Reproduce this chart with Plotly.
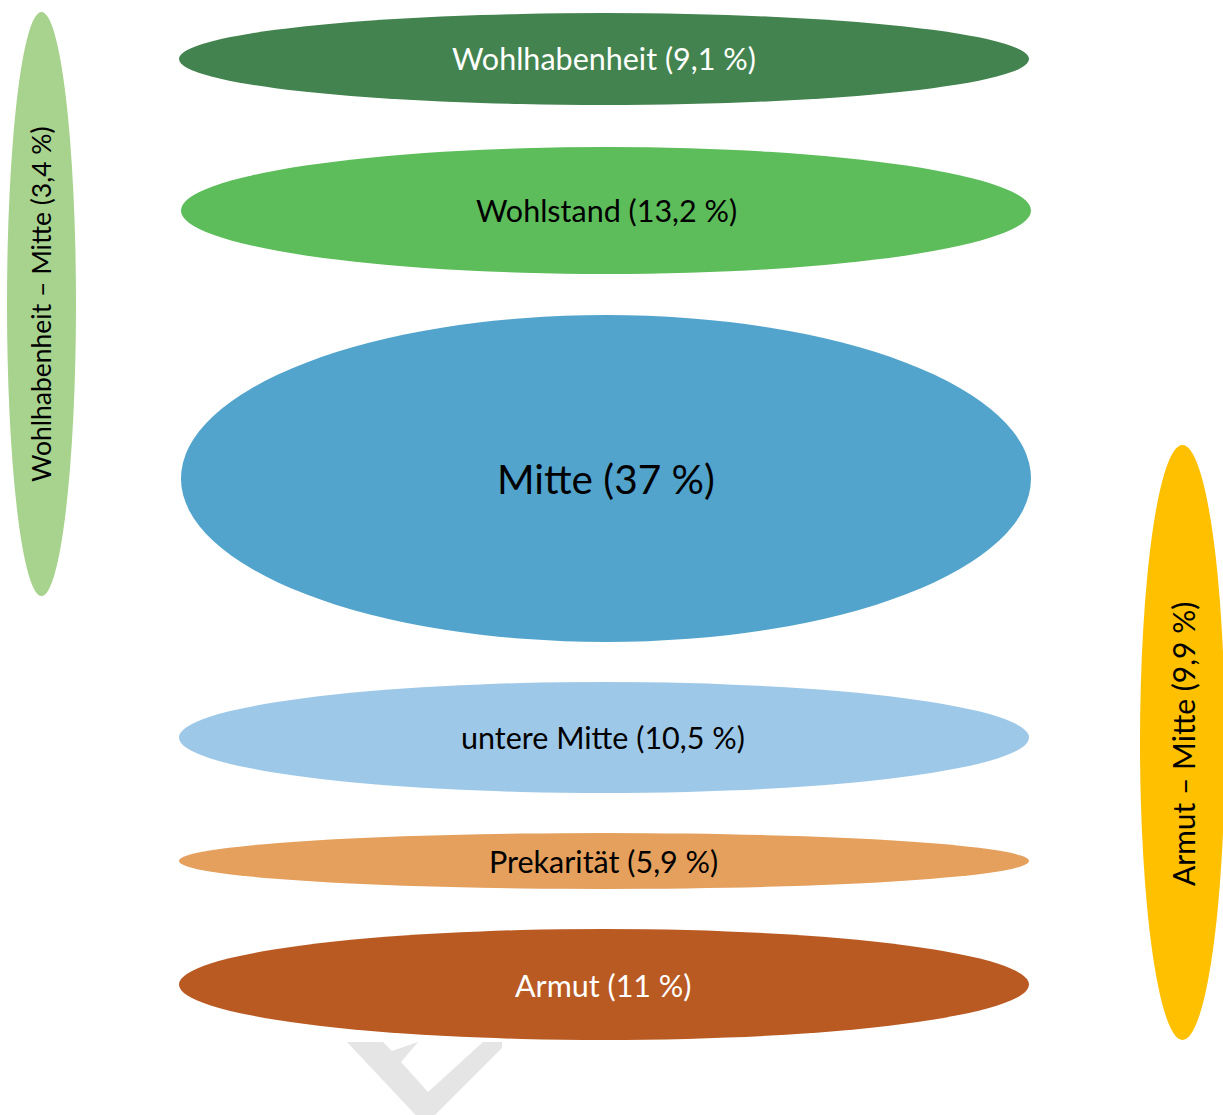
import plotly.graph_objects as go

# ---- data ----
groups = ["Wohlhabenheit", "Wohlstand", "Mitte", "untere Mitte", "Prekarität", "Armut"]
shares = [9.1, 13.2, 37, 10.5, 5.9, 11]
transition_groups = ["Wohlhabenheit – Mitte", "Armut – Mitte"]
transition_shares = [3.4, 9.9]

# ---- layout geometry (pixel space, y downward) ----
main_boxes = [  # x0, x1, y0, y1
    (179, 1029, 13, 105),
    (181, 1031, 147, 274),
    (181, 1031, 315, 642),
    (179, 1029, 682, 793),
    (179, 1029, 833, 889),
    (179, 1029, 929, 1040),
]
main_colors = ["#43834F", "#5CBD5A", "#52A4CC", "#9DC8E8", "#E4A05C", "#BA5A23"]
main_text_colors = ["white", "black", "black", "black", "black", "white"]
main_font_sizes = [30.5, 30.5, 40.5, 30.5, 30.5, 30.5]
main_text_pos = [(604, 58), (606, 210), (606, 478), (603, 737), (603, 861), (603, 985)]

side_boxes = [(7, 76, 12, 596), (1140, 1225, 445, 1040)]
side_colors = ["#A8D38E", "#FFC000"]
side_text_pos = [(41, 304), (1183, 744)]
side_font_sizes = [26.5, 30]

FONT = "Lato"


def fmt(v):
    return f"{v:g}".replace(".", ",")


fig = go.Figure()
shapes = []
annotations = []

# watermark (light grey chevron)
wm_x = [347, 383, 392, 418, 401, 428, 483, 502, 502, 425, 347]
wm_y = [1042, 1042, 1051, 1042, 1062, 1092, 1042, 1042, 1048, 1125, 1042]
fig.add_trace(go.Scatter(x=wm_x, y=wm_y, mode="lines", fill="toself",
                         fillcolor="#E5E5E5", line=dict(width=0, color="#E5E5E5"),
                         hoverinfo="skip", showlegend=False))

for (x0, x1, y0, y1), c in zip(main_boxes, main_colors):
    shapes.append(dict(type="circle", xref="x", yref="y", x0=x0, x1=x1, y0=y0, y1=y1,
                       fillcolor=c, line=dict(width=0), layer="above"))
for (x0, x1, y0, y1), c in zip(side_boxes, side_colors):
    shapes.append(dict(type="circle", xref="x", yref="y", x0=x0, x1=x1, y0=y0, y1=y1,
                       fillcolor=c, line=dict(width=0), layer="above"))

for g, s, (tx, ty), tc, fs in zip(groups, shares, main_text_pos, main_text_colors, main_font_sizes):
    annotations.append(dict(x=tx, y=ty, xref="x", yref="y", text=f"{g} ({fmt(s)} %)",
                            showarrow=False, font=dict(family=FONT, size=fs, color=tc),
                            xanchor="center", yanchor="middle"))

for g, s, (tx, ty), fs in zip(transition_groups, transition_shares, side_text_pos, side_font_sizes):
    annotations.append(dict(x=tx, y=ty, xref="x", yref="y", text=f"{g} ({fmt(s)} %)",
                            showarrow=False, textangle=-90,
                            font=dict(family=FONT, size=fs, color="black"),
                            xanchor="center", yanchor="middle"))

fig.update_layout(
    width=1223, height=1115,
    margin=dict(l=0, r=0, t=0, b=0),
    paper_bgcolor="white", plot_bgcolor="white",
    xaxis=dict(range=[0, 1223], visible=False, fixedrange=True),
    yaxis=dict(range=[1115, 0], visible=False, fixedrange=True),
    shapes=shapes, annotations=annotations, showlegend=False,
)

fig.write_html("out.html", config={"displayModeBar": False},
               post_script="document.body.style.margin='0';document.body.style.padding='0';document.body.style.overflow='hidden';")
